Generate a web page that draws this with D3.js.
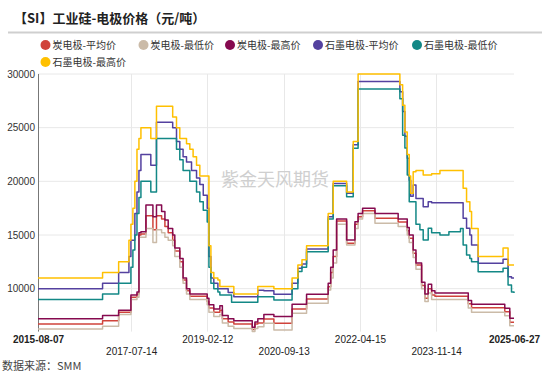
<!DOCTYPE html>
<html><head><meta charset="utf-8">
<script src="https://cdn.jsdelivr.net/npm/d3@7"></script>
<style>
html,body{margin:0;padding:0;background:#fff;}
svg{display:block;font-family:"Liberation Sans",Arial,"Noto Sans CJK SC",sans-serif;}
</style></head>
<body><svg id="c" width="550" height="374"></svg>
<script>
const title = "【SI】工业硅-电极价格（元/吨）";
const source = "数据来源：SMM";
const watermark = "紫金天风期货";
const seriesNames = ["炭电极-平均价","炭电极-最低价","炭电极-最高价","石墨电极-平均价","石墨电极-最低价","石墨电极-最高价"];
const seriesColors = ["#d0433b","#cbbba8","#860a4f","#54419f","#138886","#ffc000"];
const xTickLabels = ["2015-08-07","2017-07-14","2019-02-12","2020-09-13","2022-04-15","2023-11-14","2025-06-27"];
const yTicks = [10000,15000,20000,25000,30000];

const dates = ["2015-08-07","2016-12-09","2017-04-10","2017-06-27","2017-07-12","2017-07-27","2017-08-11","2017-08-27","2017-09-11","2017-09-26","2017-11-03","2017-12-10","2017-12-26","2018-01-22","2018-03-02","2018-03-27","2018-04-21","2018-05-25","2018-06-10","2018-06-23","2018-07-18","2018-08-12","2018-09-07","2018-10-02","2018-10-15","2018-10-27","2018-11-22","2018-12-17","2019-01-12","2019-02-11","2019-02-24","2019-03-11","2019-04-02","2019-05-03","2019-05-18","2019-06-06","2019-07-20","2019-08-15","2019-09-01","2020-01-19","2020-02-08","2020-03-01","2020-04-16","2020-07-01","2020-11-16","2020-12-30","2021-01-30","2021-03-06","2021-08-17","2021-09-05","2021-09-24","2021-10-20","2022-01-04","2022-02-23","2022-03-08","2022-04-01","2022-05-05","2022-08-07","2023-01-30","2023-02-12","2023-03-05","2023-03-22","2023-04-09","2023-04-24","2023-05-05","2023-05-24","2023-06-14","2023-07-14","2023-07-27","2023-08-08","2023-08-21","2023-09-15","2023-10-11","2023-11-05","2023-12-13","2024-02-19","2024-05-17","2024-06-06","2024-07-02","2024-07-15","2024-07-27","2024-08-09","2024-09-28","2025-04-05","2025-04-18","2025-05-13","2025-05-26","2025-06-08","2025-06-27"];

const graphiteHigh = [11000,11500,12500,14500,16000,17500,20000,23000,24000,25000,25000,24000,24000,27000,27000,27000,27000,26000,26000,25000,24000,24000,23500,23000,23000,22300,21500,20500,20500,20500,14000,11500,11000,10800,10200,10200,10200,10200,9500,9500,9500,10200,10200,10000,11000,12200,12700,14000,17000,17000,20000,20000,19000,23700,23700,30000,30000,30000,30000,29000,27100,24600,22500,20500,18900,20900,21000,21000,21000,20600,20600,20600,20700,20700,21000,21000,21000,19350,18100,18100,17200,15600,13000,13800,13800,12200,12200,12200,12200];
const graphiteAvg = [10000,10500,11500,13000,14500,14500,17000,19000,21000,22500,22500,21500,21500,25500,25500,25500,25500,25000,25000,23700,23000,22300,21800,21800,21000,21000,20300,19700,18700,17500,13000,11000,10500,10000,10000,10000,9650,9650,9250,9250,9250,9850,9800,9470,10500,11900,12300,13700,16700,16700,19800,19800,18900,23400,23400,29300,29300,29300,29300,28350,26500,24200,22150,20100,18600,19660,18400,18400,18400,17640,17640,18100,18000,18000,18000,18000,18000,16560,15620,15620,15000,14070,12360,12740,12740,11100,11100,11000,11000];
const graphiteLow = [9000,9500,10500,10500,12000,13600,15000,17000,18500,20000,20000,19000,19000,24000,24000,24000,24000,24000,24000,23000,22000,21000,21000,20000,20000,20000,19000,18100,17300,16200,12000,10500,10000,9700,9400,9400,9400,8730,8730,8730,8730,9250,9250,8940,10000,11600,12000,13450,16500,16500,19600,19600,18570,23080,23080,28600,28600,28600,28600,27700,24300,23100,20600,18100,18100,18100,16000,15500,15500,14530,14530,15620,15200,15200,15000,15300,15600,14070,13140,13140,12800,12510,11580,11900,11900,10340,10340,9700,9600];
const carbonHigh = [7200,7500,8000,8000,9400,9400,9400,9700,15200,15300,17800,17800,16700,17800,17200,16400,15600,15000,13800,13800,12800,11000,10000,9500,9500,9500,9500,9500,9500,9100,8500,8500,8100,8100,8400,7500,7200,7200,7000,6400,6900,7200,7600,7400,8540,8540,8540,9470,10500,12000,13600,16500,14530,14530,16240,17000,17500,17000,16500,16500,16500,16500,15700,15000,15000,13600,12400,12400,10600,10600,9500,10400,9800,9600,9600,9600,9600,9600,9600,8900,8900,8540,8540,8540,8170,8170,7240,7240,7240];
const carbonAvg = [6700,7000,7800,7800,9200,9200,9200,9500,15000,15100,16800,16800,15500,16800,16500,15800,15200,14500,13500,13500,12500,10800,9800,9300,9300,9300,9300,9300,9300,8800,8200,8200,7800,7800,8000,7200,6900,6900,6700,6200,6700,6800,7170,6770,8100,8100,8100,9040,10180,11500,13000,16300,14230,14230,16000,16700,17250,16550,16200,16200,16200,16200,15400,14700,14700,13300,12200,12200,10300,10300,9100,10000,9400,9300,9300,9300,9300,9300,9300,8600,8600,8230,8230,8230,7860,7860,6870,6870,6870];
const carbonLow = [6250,6500,7600,7600,9000,9000,9000,9200,14800,14800,15600,15600,14300,15500,15200,14800,14500,14000,13000,13000,12000,10500,9500,9000,9000,9000,9000,9000,9000,8500,7800,7800,7400,7400,7600,6800,6500,6500,6300,6000,6300,6450,6770,6150,7700,7700,7700,8640,9880,11000,12400,16000,14070,14070,15600,16500,17000,16100,15800,15800,15800,15800,15000,14300,14300,12900,11800,11800,10000,10000,8800,9600,9000,9000,9000,9000,9000,9000,9000,8200,8200,7800,7800,7800,7480,7480,6550,6550,6550];

const seriesValues = [carbonAvg, carbonLow, carbonHigh, graphiteAvg, graphiteLow, graphiteHigh];

const parse = d3.timeParse("%Y-%m-%d");
const svg = d3.select("#c");
const L = 38, R = 514, T = 74, B = 331.6;

const x = d3.scaleTime().domain([parse(xTickLabels[0]), parse(xTickLabels[xTickLabels.length-1])]).range([L, R]);
const y = d3.scaleLinear().domain([6000, 30000]).range([B, T]);

// title
svg.append("text").attr("x", 14).attr("y", 23).attr("font-size", 13).attr("font-weight", "bold")
  .attr("fill", "#222").attr("font-family", "'Noto Sans CJK SC',sans-serif").text(title);
svg.append("line").attr("x1", 8).attr("x2", 542).attr("y1", 32.5).attr("y2", 32.5)
  .attr("stroke", "#cfcfcf").attr("stroke-width", 2);

// legend
const legendPos = [[45.5,45],[143.5,45],[230,45],[318,45],[417,45],[45.5,62]];
const lg = svg.append("g");
seriesNames.forEach((n, i) => {
  const [cx, cy] = legendPos[i];
  lg.append("circle").attr("cx", cx).attr("cy", cy).attr("r", 5).attr("fill", seriesColors[i]);
  lg.append("text").attr("x", cx + 7).attr("y", cy + 3.5).attr("font-size", 10).attr("fill", "#333")
    .attr("font-family", "'Noto Sans CJK SC',sans-serif").text(n);
});

// gridlines
const grid = svg.append("g");
yTicks.forEach(v => {
  grid.append("line").attr("x1", L).attr("x2", R).attr("y1", y(v)).attr("y2", y(v))
    .attr("stroke", "#e8e8e8").attr("stroke-width", 1);
});
xTickLabels.slice(1, -1).forEach(s => {
  const xx = Math.round(x(parse(s))) + 0.5;
  grid.append("line").attr("x1", xx).attr("x2", xx).attr("y1", T).attr("y2", B)
    .attr("stroke", "#e8e8e8").attr("stroke-width", 1);
});

// watermark
svg.append("text").attr("x", 275).attr("y", 186).attr("text-anchor", "middle").attr("font-size", 18)
  .attr("fill", "#cfcfcf").attr("font-family", "'Noto Sans CJK SC',sans-serif").text(watermark);

// y axis
const yAxis = d3.axisLeft(y).tickValues(yTicks).tickSize(0).tickPadding(3).tickFormat(d3.format("d"));
const ya = svg.append("g").attr("transform", `translate(${L},0)`).call(yAxis);
ya.select(".domain").remove();
ya.selectAll("text").attr("font-size", 10).attr("fill", "#333").attr("font-family", "'Liberation Sans',Arial,sans-serif");
svg.append("line").attr("x1", L + 0.5).attr("x2", L + 0.5).attr("y1", T).attr("y2", B)
  .attr("stroke", "#777").attr("stroke-width", 1);

// x axis
const xAxis = d3.axisBottom(x).tickValues(xTickLabels.map(parse)).tickSize(0).tickFormat(d3.timeFormat("%Y-%m-%d"));
const xa = svg.append("g").attr("transform", `translate(0,${B})`).call(xAxis);
xa.select(".domain").remove();
xa.selectAll("text")
  .attr("font-size", 10).attr("fill", "#222").attr("font-family", "'Liberation Sans',Arial,sans-serif")
  .attr("dy", null)
  .attr("y", (d, i) => i % 2 === 0 ? 8.5 : 21)
  .attr("dominant-baseline", "middle")
  .attr("font-weight", (d, i) => (i === 0 || i === xTickLabels.length - 1) ? "bold" : "normal");

// lines
const line = d3.line().curve(d3.curveStepAfter).x(d => x(d[0])).y(d => y(d[1]));
const lines = svg.append("g");
seriesValues.forEach((vals, i) => {
  const data = dates.map((d, k) => [parse(d), vals[k]]);
  lines.append("path").datum(data).attr("d", line).attr("fill", "none")
    .attr("stroke", seriesColors[i]).attr("stroke-width", 1.5).attr("stroke-linejoin", "round");
});

// source
svg.append("text").attr("x", 2).attr("y", 370).attr("font-size", 11).attr("fill", "#444")
  .attr("font-family", "'Noto Sans CJK SC',sans-serif").text(source);
</script></body></html>
